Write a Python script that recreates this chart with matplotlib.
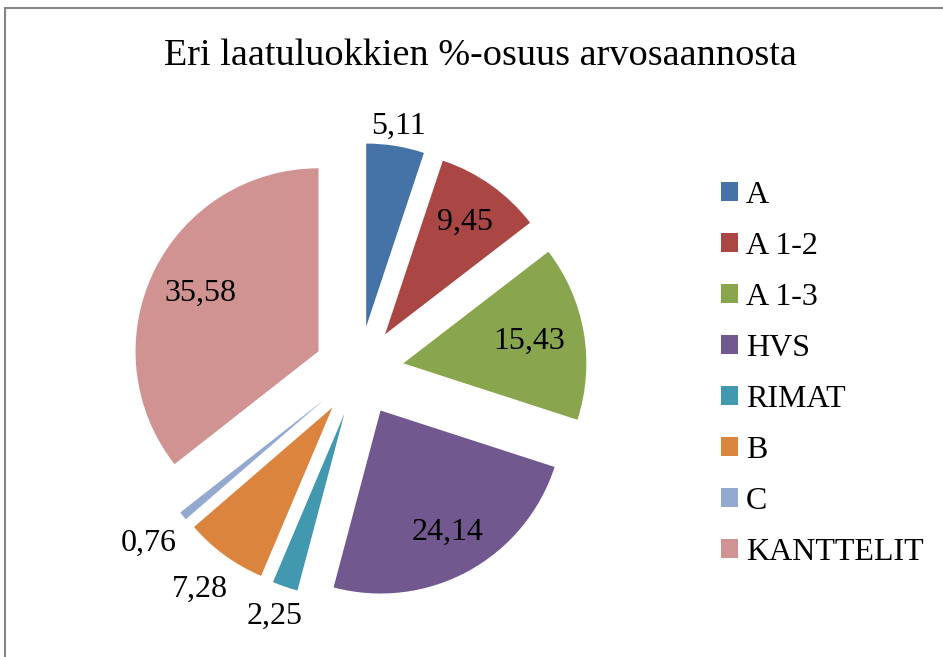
import numpy as np
import matplotlib
matplotlib.use("Agg")
import matplotlib.pyplot as plt
from matplotlib.patches import Rectangle

plt.rcParams['font.family'] = ['Liberation Serif', 'DejaVu Serif']

# data
categories = ["A", "A 1-2", "A 1-3", "HVS", "RIMAT", "B", "C", "KANTTELIT"]
values = [5.11, 9.45, 15.43, 24.14, 2.25, 7.28, 0.76, 35.58]
value_labels = ["5,11", "9,45", "15,43", "24,14", "2,25", "7,28", "0,76", "35,58"]
colors = ["#4572A7", "#AA4643", "#89A54E", "#71588F",
          "#4198AF", "#DB843D", "#93A9CF", "#D19392"]
title = "Eri laatuluokkien %-osuus arvosaannosta"

# label distance from (exploded) slice centre, in pie radii
label_dist = [1.11, 0.75, 0.70, 0.76, 1.17, 1.23, 1.24, 0.72]

W, H = 943, 657
fig = plt.figure(figsize=(W / 100, H / 100), dpi=100)
ax = fig.add_axes([0, 0, 1, 1])

radius = 183
center = (359, H - 371)
wedges, _ = ax.pie(values, colors=colors, startangle=90, counterclock=False,
                   radius=radius, center=center, explode=[45] * len(values),
                   wedgeprops=dict(linewidth=0), frame=True)
ax.set_xlim(0, W)
ax.set_ylim(0, H)
ax.axis("off")

for w, txt, d in zip(wedges, value_labels, label_dist):
    ang = np.deg2rad((w.theta1 + w.theta2) / 2)
    cx, cy = w.center
    ax.text(cx + d * radius * np.cos(ang), cy + d * radius * np.sin(ang), txt,
            ha="center", va="center", fontsize=23)

fig.text(480 / W, 1 - 56 / H, title, ha="center", va="center", fontsize=27.5)

ax.legend(wedges, categories, loc="upper left", bbox_to_anchor=(692 / W, 1 - 152 / H),
          bbox_transform=fig.transFigure, frameon=False, fontsize=23,
          handlelength=0.53, handleheight=0.53, handletextpad=0.26,
          labelspacing=0.69)

fig.add_artist(Rectangle((5 / W, -0.1), 1.2, 1.1 - 8 / H, transform=fig.transFigure,
                         fill=False, edgecolor="#868686", linewidth=1.5))

fig.savefig("out.png", dpi=100)
